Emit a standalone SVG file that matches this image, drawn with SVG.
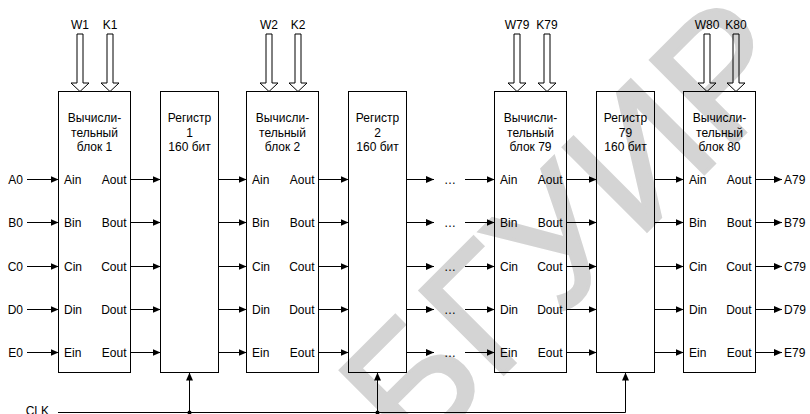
<svg xmlns="http://www.w3.org/2000/svg" width="810" height="414" viewBox="0 0 810 414">
<style>
text{font-family:"Liberation Sans",Arial,sans-serif;font-size:12px;fill:#000}
.t{text-anchor:middle}
.e{text-anchor:end}
.box{fill:none;stroke:#000;stroke-width:1}
.ha{fill:none;stroke:#000;stroke-width:1}
.c line,.c path{stroke:#000;stroke-width:1;fill:none;marker-end:url(#ah)}
.wm{font-size:172px;fill:#d4d4d4;stroke:#d4d4d4;stroke-width:3}
</style>
<defs>
<marker id="ah" markerWidth="8" markerHeight="7" refX="8" refY="3.5" orient="auto" markerUnits="userSpaceOnUse"><path d="M0,0 L8,3.5 L0,7 z" fill="#000"/></marker>
</defs>
<text class="wm" transform="translate(414,464) rotate(-45)">БГУИР</text>

<g id="C1">
<rect class="box" x="58.5" y="91.5" width="72" height="281"/>
<text class="t" x="94.5" y="122">Вычисли-</text><text class="t" x="94.5" y="136.5">тельный</text><text class="t" x="94.5" y="151">блок 1</text>
<text x="64" y="183.5">Ain</text><text x="64" y="226.5">Bin</text><text x="64" y="270.5">Cin</text><text x="64" y="313.5">Din</text><text x="64" y="356.5">Ein</text>
<text class="e" x="126.5" y="183.5">Aout</text><text class="e" x="126.5" y="226.5">Bout</text><text class="e" x="126.5" y="270.5">Cout</text><text class="e" x="126.5" y="313.5">Dout</text><text class="e" x="126.5" y="356.5">Eout</text>
<polygon class="ha" points="77,34 83,34 83,83 89,83 80,91.5 71,83 77,83"/><text class="t" x="80" y="29">W1</text>
<polygon class="ha" points="107,34 113,34 113,83 119,83 110,91.5 101,83 107,83"/><text class="t" x="110" y="29">K1</text>
</g>
<g id="R1">
<rect class="box" x="160.5" y="91.5" width="58" height="281"/>
<text class="t" x="189.5" y="122">Регистр</text><text class="t" x="189.5" y="136.5">1</text><text class="t" x="189.5" y="151">160 бит</text>
</g>
<g id="C2">
<rect class="box" x="246.5" y="91.5" width="72" height="281"/>
<text class="t" x="282.5" y="122">Вычисли-</text><text class="t" x="282.5" y="136.5">тельный</text><text class="t" x="282.5" y="151">блок 2</text>
<text x="252" y="183.5">Ain</text><text x="252" y="226.5">Bin</text><text x="252" y="270.5">Cin</text><text x="252" y="313.5">Din</text><text x="252" y="356.5">Ein</text>
<text class="e" x="314.5" y="183.5">Aout</text><text class="e" x="314.5" y="226.5">Bout</text><text class="e" x="314.5" y="270.5">Cout</text><text class="e" x="314.5" y="313.5">Dout</text><text class="e" x="314.5" y="356.5">Eout</text>
<polygon class="ha" points="266,34 272,34 272,83 278,83 269,91.5 260,83 266,83"/><text class="t" x="269" y="29">W2</text>
<polygon class="ha" points="295,34 301,34 301,83 307,83 298,91.5 289,83 295,83"/><text class="t" x="298" y="29">K2</text>
</g>
<g id="R2">
<rect class="box" x="348.5" y="91.5" width="58" height="281"/>
<text class="t" x="377.5" y="122">Регистр</text><text class="t" x="377.5" y="136.5">2</text><text class="t" x="377.5" y="151">160 бит</text>
</g>
<g id="C79">
<rect class="box" x="494.5" y="91.5" width="72" height="281"/>
<text class="t" x="530.5" y="122">Вычисли-</text><text class="t" x="530.5" y="136.5">тельный</text><text class="t" x="530.5" y="151">блок 79</text>
<text x="500" y="183.5">Ain</text><text x="500" y="226.5">Bin</text><text x="500" y="270.5">Cin</text><text x="500" y="313.5">Din</text><text x="500" y="356.5">Ein</text>
<text class="e" x="562.5" y="183.5">Aout</text><text class="e" x="562.5" y="226.5">Bout</text><text class="e" x="562.5" y="270.5">Cout</text><text class="e" x="562.5" y="313.5">Dout</text><text class="e" x="562.5" y="356.5">Eout</text>
<polygon class="ha" points="514,34 520,34 520,83 526,83 517,91.5 508,83 514,83"/><text class="t" x="517" y="29">W79</text>
<polygon class="ha" points="544,34 550,34 550,83 556,83 547,91.5 538,83 544,83"/><text class="t" x="547" y="29">K79</text>
</g>
<g id="R79">
<rect class="box" x="596.5" y="91.5" width="58" height="281"/>
<text class="t" x="625.5" y="122">Регистр</text><text class="t" x="625.5" y="136.5">79</text><text class="t" x="625.5" y="151">160 бит</text>
</g>
<g id="C80">
<rect class="box" x="683.5" y="91.5" width="72" height="281"/>
<text class="t" x="719.5" y="122">Вычисли-</text><text class="t" x="719.5" y="136.5">тельный</text><text class="t" x="719.5" y="151">блок 80</text>
<text x="689" y="183.5">Ain</text><text x="689" y="226.5">Bin</text><text x="689" y="270.5">Cin</text><text x="689" y="313.5">Din</text><text x="689" y="356.5">Ein</text>
<text class="e" x="751.5" y="183.5">Aout</text><text class="e" x="751.5" y="226.5">Bout</text><text class="e" x="751.5" y="270.5">Cout</text><text class="e" x="751.5" y="313.5">Dout</text><text class="e" x="751.5" y="356.5">Eout</text>
<polygon class="ha" points="704,34 710,34 710,83 716,83 707,91.5 698,83 704,83"/><text class="t" x="707" y="29">W80</text>
<polygon class="ha" points="733,34 739,34 739,83 745,83 736,91.5 727,83 733,83"/><text class="t" x="736" y="29">K80</text>
</g>

<g id="io">
<text class="e" x="23" y="183.5">A0</text><text class="e" x="23" y="226.5">B0</text><text class="e" x="23" y="270.5">C0</text><text class="e" x="23" y="313.5">D0</text><text class="e" x="23" y="356.5">E0</text>
<text x="784" y="183.5">A79</text><text x="784" y="226.5">B79</text><text x="784" y="270.5">C79</text><text x="784" y="313.5">D79</text><text x="784" y="356.5">E79</text>
<text class="t" x="450" y="183.5">…</text><text class="t" x="450" y="226.5">…</text><text class="t" x="450" y="270.5">…</text><text class="t" x="450" y="313.5">…</text><text class="t" x="450" y="356.5">…</text>
<text class="e" x="49" y="415">CLK</text>
</g>

<g id="connectors" class="c">
<line x1="27" y1="179.5" x2="58.5" y2="179.5"/><line x1="130.5" y1="179.5" x2="160.5" y2="179.5"/><line x1="218.5" y1="179.5" x2="246.5" y2="179.5"/><line x1="318.5" y1="179.5" x2="348.5" y2="179.5"/><line x1="406.5" y1="179.5" x2="434" y2="179.5"/><line x1="465" y1="179.5" x2="494.5" y2="179.5"/><line x1="566.5" y1="179.5" x2="596.5" y2="179.5"/><line x1="654.5" y1="179.5" x2="683.5" y2="179.5"/><line x1="755.5" y1="179.5" x2="782" y2="179.5"/>
<line x1="27" y1="222.5" x2="58.5" y2="222.5"/><line x1="130.5" y1="222.5" x2="160.5" y2="222.5"/><line x1="218.5" y1="222.5" x2="246.5" y2="222.5"/><line x1="318.5" y1="222.5" x2="348.5" y2="222.5"/><line x1="406.5" y1="222.5" x2="434" y2="222.5"/><line x1="465" y1="222.5" x2="494.5" y2="222.5"/><line x1="566.5" y1="222.5" x2="596.5" y2="222.5"/><line x1="654.5" y1="222.5" x2="683.5" y2="222.5"/><line x1="755.5" y1="222.5" x2="782" y2="222.5"/>
<line x1="27" y1="266.5" x2="58.5" y2="266.5"/><line x1="130.5" y1="266.5" x2="160.5" y2="266.5"/><line x1="218.5" y1="266.5" x2="246.5" y2="266.5"/><line x1="318.5" y1="266.5" x2="348.5" y2="266.5"/><line x1="406.5" y1="266.5" x2="434" y2="266.5"/><line x1="465" y1="266.5" x2="494.5" y2="266.5"/><line x1="566.5" y1="266.5" x2="596.5" y2="266.5"/><line x1="654.5" y1="266.5" x2="683.5" y2="266.5"/><line x1="755.5" y1="266.5" x2="782" y2="266.5"/>
<line x1="27" y1="309.5" x2="58.5" y2="309.5"/><line x1="130.5" y1="309.5" x2="160.5" y2="309.5"/><line x1="218.5" y1="309.5" x2="246.5" y2="309.5"/><line x1="318.5" y1="309.5" x2="348.5" y2="309.5"/><line x1="406.5" y1="309.5" x2="434" y2="309.5"/><line x1="465" y1="309.5" x2="494.5" y2="309.5"/><line x1="566.5" y1="309.5" x2="596.5" y2="309.5"/><line x1="654.5" y1="309.5" x2="683.5" y2="309.5"/><line x1="755.5" y1="309.5" x2="782" y2="309.5"/>
<line x1="27" y1="352.5" x2="58.5" y2="352.5"/><line x1="130.5" y1="352.5" x2="160.5" y2="352.5"/><line x1="218.5" y1="352.5" x2="246.5" y2="352.5"/><line x1="318.5" y1="352.5" x2="348.5" y2="352.5"/><line x1="406.5" y1="352.5" x2="434" y2="352.5"/><line x1="465" y1="352.5" x2="494.5" y2="352.5"/><line x1="566.5" y1="352.5" x2="596.5" y2="352.5"/><line x1="654.5" y1="352.5" x2="683.5" y2="352.5"/><line x1="755.5" y1="352.5" x2="782" y2="352.5"/>
<path d="M58,412.5 H625.5 V372.5"/>
<line x1="189.5" y1="412.5" x2="189.5" y2="372.5"/>
<line x1="377.5" y1="412.5" x2="377.5" y2="372.5"/>
<circle cx="189.5" cy="412.5" r="2" fill="#000"/>
<circle cx="377.5" cy="412.5" r="2" fill="#000"/>
</g>
</svg>
